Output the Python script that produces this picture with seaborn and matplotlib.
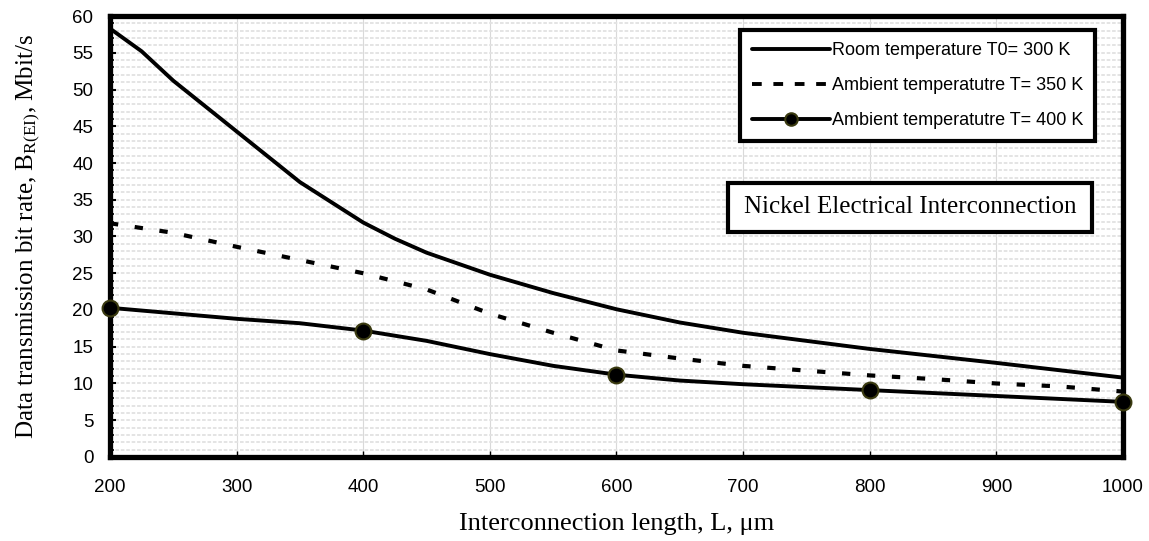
import numpy as np
import pandas as pd
import seaborn as sns
import matplotlib
matplotlib.use("Agg")
import matplotlib.pyplot as plt
from matplotlib.lines import Line2D
from matplotlib.patches import Rectangle
from matplotlib.ticker import MultipleLocator

# ---- data ----
L_300 = [200, 225, 250, 300, 350, 400, 425, 450, 500, 550, 600, 650, 700, 800, 900, 1000]
B_300 = [58.3, 55.2, 51.2, 44.3, 37.4, 31.9, 29.7, 27.8, 24.8, 22.3, 20.1, 18.3, 16.9, 14.7, 12.8, 10.8]

L_350 = [200, 250, 300, 350, 400, 450, 500, 550, 600, 650, 700, 800, 850, 900, 950, 1000]
B_350 = [31.8, 30.5, 28.6, 26.8, 25.0, 22.8, 19.5, 16.9, 14.5, 13.4, 12.4, 11.1, 10.6, 10.0, 9.6, 8.9]

L_400 = [200, 300, 350, 400, 450, 500, 550, 600, 650, 700, 800, 900, 1000]
B_400 = [20.3, 18.8, 18.2, 17.2, 15.8, 14.0, 12.4, 11.2, 10.4, 9.9, 9.1, 8.3, 7.5]
marker_L_400 = [200, 400, 600, 800, 1000]

labels = ["Room temperature T0= 300 K",
          "Ambient temperatutre T= 350 K",
          "Ambient temperatutre T= 400 K"]
x_ticks = [200, 300, 400, 500, 600, 700, 800, 900, 1000]
y_ticks = [0, 5, 10, 15, 20, 25, 30, 35, 40, 45, 50, 55, 60]
box_text = "Nickel Electrical Interconnection"
x_label = "Interconnection length, L, \u03bcm"
y_label = r"Data transmission bit rate, B$_{\mathrm{R(EI)}}$, Mbit/s"

df300 = pd.DataFrame({"L": L_300, "B": B_300})
df350 = pd.DataFrame({"L": L_350, "B": B_350})
df400 = pd.DataFrame({"L": L_400, "B": B_400})
df400m = df400[df400["L"].isin(marker_L_400)]

# ---- style ----
sns.set_style("white")
plt.rcParams["font.family"] = ["Liberation Sans", "DejaVu Sans"]
plt.rcParams["mathtext.fontset"] = "custom"
plt.rcParams["mathtext.rm"] = "Liberation Serif"
plt.rcParams["mathtext.it"] = "Liberation Serif:italic"
plt.rcParams["text.color"] = "black"
plt.rcParams["axes.labelcolor"] = "black"
plt.rcParams["xtick.color"] = "black"
plt.rcParams["ytick.color"] = "black"

fig = plt.figure(figsize=(11.49, 5.41), dpi=100)
ax = fig.add_axes([0.0957, 0.1553, 0.8817, 0.8151])

lw = 2.8
sns.lineplot(data=df300, x="L", y="B", ax=ax, color="black", linewidth=lw, legend=False)
sns.lineplot(data=df350, x="L", y="B", ax=ax, color="black", linewidth=lw + 0.2,
             linestyle=(0, (2, 4)), legend=False)
sns.lineplot(data=df400, x="L", y="B", ax=ax, color="black", linewidth=lw, legend=False)
sns.scatterplot(data=df400m, x="L", y="B", ax=ax, color="black", s=130,
                edgecolor="#3a3a10", linewidth=1.5, zorder=5, legend=False, clip_on=False)

ax.set_xlim(200, 1000)
ax.set_ylim(0, 60)
ax.set_xticks(x_ticks)
ax.set_yticks(y_ticks)
ax.yaxis.set_minor_locator(MultipleLocator(1))

ax.grid(axis="y", which="both", color="#e2e2e2", linestyle=(0, (2, 1)), linewidth=1.3, zorder=0)
ax.grid(axis="x", which="major", color="#d9d9d9", linestyle="-", linewidth=0.8, zorder=0)
ax.set_axisbelow(True)

for s in ax.spines.values():
    s.set_linewidth(3.8)
    s.set_color("black")

ax.tick_params(axis="y", which="major", direction="in", length=4, width=1.5,
               labelsize=13.5, pad=12, left=True, colors="black")
ax.tick_params(axis="y", which="minor", direction="in", length=3, width=1.2, left=True,
               colors="black")
ax.tick_params(axis="x", which="major", direction="in", length=4, width=1, bottom=True,
               labelsize=13.5, pad=16, colors="black")

ax.set_xlabel(x_label, fontfamily="Liberation Serif", fontsize=19, labelpad=12, color="black")
ax.set_ylabel(y_label, fontfamily="Liberation Serif", fontsize=18, labelpad=22, color="black")

handles = [
    Line2D([], [], color="black", linewidth=lw),
    Line2D([], [], color="black", linewidth=lw, linestyle=(0, (2.5, 3))),
    Line2D([], [], color="black", linewidth=lw, marker="o", markersize=9,
           markerfacecolor="black", markeredgecolor="#3a3a10", markeredgewidth=1.5),
]
leg = ax.legend(handles, labels, loc="upper right", bbox_to_anchor=(0.972, 0.968),
                borderaxespad=0, fontsize=13, handlelength=4.3, handletextpad=0.1,
                labelspacing=1.0, frameon=True, fancybox=False, borderpad=0.65)
leg.get_frame().set_edgecolor("black")
leg.get_frame().set_linewidth(3)
leg.get_frame().set_facecolor("white")
leg.get_frame().set_alpha(1)

rect = Rectangle((0.610, 0.510), 0.359, 0.111, transform=ax.transAxes,
                 facecolor="white", edgecolor="black", linewidth=3, zorder=6)
ax.add_patch(rect)
ax.text(0.790, 0.566, box_text, transform=ax.transAxes, ha="center", va="center",
        fontfamily="Liberation Serif", fontsize=18, zorder=7, color="black")

fig.savefig("out.png", dpi=100)
